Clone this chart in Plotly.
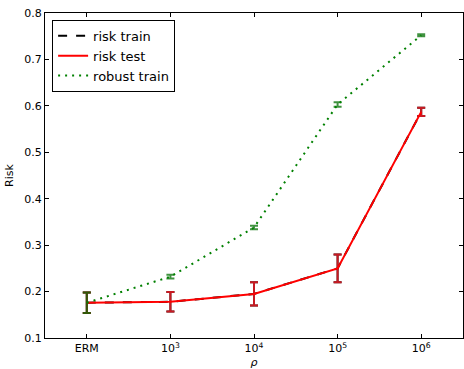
import plotly.graph_objects as go

# Risk curves across regularisation strength rho
categories = ["ERM", "10<sup>3</sup>", "10<sup>4</sup>", "10<sup>5</sup>", "10<sup>6</sup>"]

risk_train = [0.176, 0.178, 0.195, 0.250, 0.587]
risk_train_err = [0.022, 0.021, 0.025, 0.030, 0.009]

risk_test = [0.176, 0.178, 0.195, 0.250, 0.587]
risk_test_err = [0.022, 0.021, 0.025, 0.030, 0.009]

robust_train = [0.176, 0.232, 0.338, 0.603, 0.752]
robust_train_err = [0.022, 0.004, 0.004, 0.005, 0.002]

xpos = list(range(len(categories)))
font = "DejaVu Sans, Liberation Sans, sans-serif"

fig = go.Figure()

fig.add_trace(go.Scatter(
    x=xpos, y=risk_train, name="risk train", mode="lines",
    line=dict(color="black", width=2, dash="dash"),
    error_y=dict(type="data", array=risk_train_err, visible=True,
                 color="black", thickness=2, width=4),
))
fig.add_trace(go.Scatter(
    x=xpos, y=risk_test, name="risk test", mode="lines",
    line=dict(color="#ff0000", width=2),
    error_y=dict(type="data", array=risk_test_err, visible=True,
                 color="rgba(235,30,40,0.85)", thickness=2, width=4),
))
fig.add_trace(go.Scatter(
    x=xpos, y=robust_train, name="robust train", mode="lines",
    line=dict(color="#008000", width=2, dash="2px,5px"),
    error_y=dict(type="data", array=robust_train_err, visible=True,
                 color="rgba(0,110,0,0.75)", thickness=2, width=4),
))

fig.update_layout(
    width=464, height=369,
    margin=dict(l=45, r=1, t=13, b=31),
    paper_bgcolor="white", plot_bgcolor="white",
    font=dict(family=font, size=11, color="black"),
    showlegend=True,
    legend=dict(
        x=0.017, y=0.979, xanchor="left", yanchor="top",
        bgcolor="white", bordercolor="black", borderwidth=1,
        font=dict(family=font, size=13, color="black"),
        itemwidth=30, tracegroupgap=0,
    ),
    xaxis=dict(
        range=[-0.5, 4.5], tickmode="array", tickvals=xpos, ticktext=categories,
        showline=True, linecolor="black", linewidth=1, mirror="ticks",
        ticks="inside", ticklen=4, tickcolor="black", showgrid=False, zeroline=False,
        title=dict(text="<i>ρ</i>", standoff=5, font=dict(size=11)),
    ),
    yaxis=dict(
        range=[0.1, 0.8], tickmode="array",
        tickvals=[0.1, 0.2, 0.3, 0.4, 0.5, 0.6, 0.7, 0.8],
        ticktext=["0.1", "0.2", "0.3", "0.4", "0.5", "0.6", "0.7", "0.8"],
        showline=True, linecolor="black", linewidth=1, mirror="ticks",
        ticks="inside", ticklen=4, tickcolor="black", showgrid=False, zeroline=False,
        title=dict(text="Risk", standoff=8, font=dict(size=11)),
    ),
)

fig.write_html("out.html")
